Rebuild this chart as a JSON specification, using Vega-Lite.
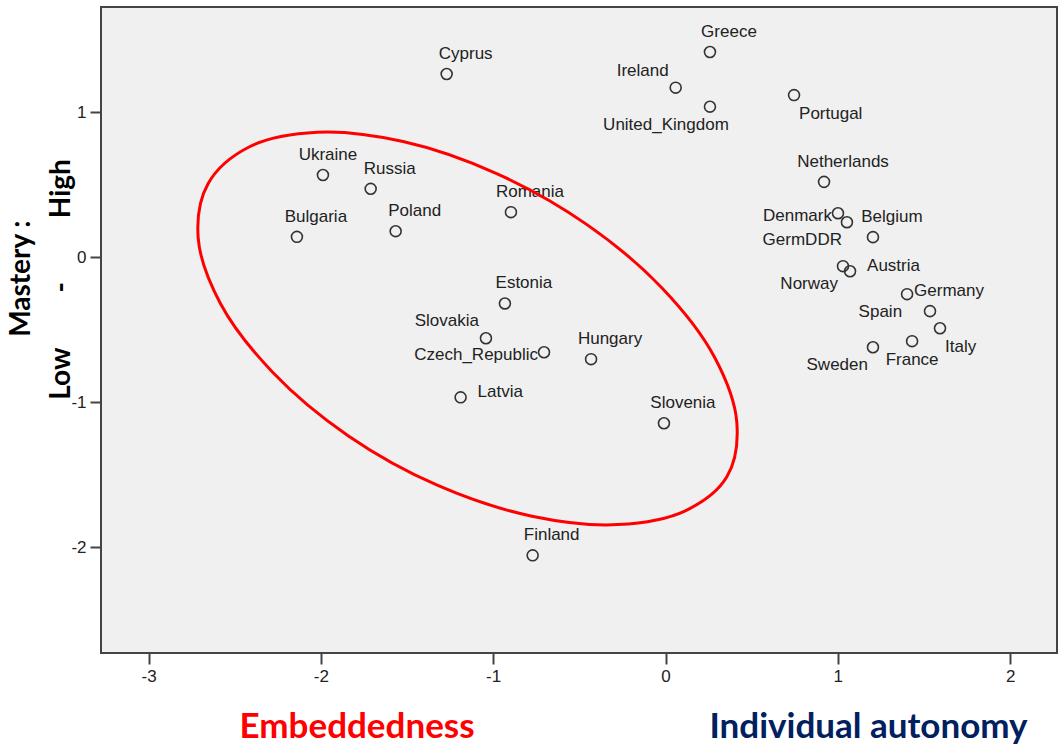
{
  "$schema": "https://vega.github.io/schema/vega-lite/v6.json",
  "width": 956,
  "height": 646,
  "autosize": {"type": "none"},
  "padding": {"left": 101, "top": 7, "right": 1, "bottom": 96},
  "background": "white",
  "config": {
    "view": {"fill": "#f0f0f0", "stroke": "#444444", "strokeWidth": 2},
    "axis": {"grid": false, "domain": false, "tickColor": "#444444", "tickWidth": 2, "tickSize": 11,
             "labelFont": "Liberation Sans Narrow, Liberation Sans", "labelFontSize": 17, "labelColor": "#222222", "labelPadding": 4}
  },
  "datasets": {
    "countries": [
      {"country": "Cyprus", "autonomy": -1.270, "mastery": 1.262},
      {"country": "Greece", "autonomy": 0.258, "mastery": 1.414},
      {"country": "Ireland", "autonomy": 0.059, "mastery": 1.168},
      {"country": "United_Kingdom", "autonomy": 0.258, "mastery": 1.037},
      {"country": "Portugal", "autonomy": 0.746, "mastery": 1.117},
      {"country": "Ukraine", "autonomy": -1.988, "mastery": 0.566},
      {"country": "Russia", "autonomy": -1.711, "mastery": 0.471},
      {"country": "Romania", "autonomy": -0.897, "mastery": 0.310},
      {"country": "Bulgaria", "autonomy": -2.139, "mastery": 0.140},
      {"country": "Poland", "autonomy": -1.566, "mastery": 0.179},
      {"country": "Netherlands", "autonomy": 0.920, "mastery": 0.519},
      {"country": "Denmark", "autonomy": 1.001, "mastery": 0.303},
      {"country": "GermDDR", "autonomy": 1.053, "mastery": 0.241},
      {"country": "Belgium", "autonomy": 1.204, "mastery": 0.138},
      {"country": "Norway", "autonomy": 1.030, "mastery": -0.062},
      {"country": "Austria", "autonomy": 1.071, "mastery": -0.097},
      {"country": "Spain", "autonomy": 1.402, "mastery": -0.255},
      {"country": "Germany", "autonomy": 1.535, "mastery": -0.372},
      {"country": "Italy", "autonomy": 1.593, "mastery": -0.490},
      {"country": "France", "autonomy": 1.431, "mastery": -0.579},
      {"country": "Sweden", "autonomy": 1.204, "mastery": -0.621},
      {"country": "Estonia", "autonomy": -0.932, "mastery": -0.319},
      {"country": "Slovakia", "autonomy": -1.042, "mastery": -0.559},
      {"country": "Czech_Republic", "autonomy": -0.705, "mastery": -0.655},
      {"country": "Hungary", "autonomy": -0.432, "mastery": -0.703},
      {"country": "Latvia", "autonomy": -1.189, "mastery": -0.966},
      {"country": "Slovenia", "autonomy": -0.009, "mastery": -1.145},
      {"country": "Finland", "autonomy": -0.771, "mastery": -2.055}
    ],
    "ellipse": [
      {"i": 1, "autonomy": 0.356, "mastery": -1.514},
      {"i": 2, "autonomy": 0.115, "mastery": -1.748},
      {"i": 3, "autonomy": -0.277, "mastery": -1.843},
      {"i": 4, "autonomy": -0.775, "mastery": -1.785},
      {"i": 5, "autonomy": -1.318, "mastery": -1.575},
      {"i": 6, "autonomy": -1.840, "mastery": -1.232},
      {"i": 7, "autonomy": -2.280, "mastery": -0.793},
      {"i": 8, "autonomy": -2.583, "mastery": -0.319},
      {"i": 9, "autonomy": -2.712, "mastery": 0.133},
      {"i": 10, "autonomy": -2.654, "mastery": 0.508},
      {"i": 11, "autonomy": -2.414, "mastery": 0.761},
      {"i": 12, "autonomy": -2.021, "mastery": 0.861},
      {"i": 13, "autonomy": -1.523, "mastery": 0.797},
      {"i": 14, "autonomy": -0.980, "mastery": 0.576},
      {"i": 15, "autonomy": -0.458, "mastery": 0.226},
      {"i": 16, "autonomy": -0.019, "mastery": -0.214},
      {"i": 17, "autonomy": 0.284, "mastery": -0.688},
      {"i": 18, "autonomy": 0.414, "mastery": -1.140}
    ],
    "xnotes": [
      {"text": "Embeddedness", "autonomy": -1.790, "mastery": -3.317},
      {"text": "Individual autonomy", "autonomy": 1.178, "mastery": -3.317}
    ],
    "ynotes": [
      {"text": "Mastery :", "autonomy": -3.735, "mastery": -0.148},
      {"text": "High", "autonomy": -3.503, "mastery": 0.472},
      {"text": "-", "autonomy": -3.503, "mastery": -0.207},
      {"text": "Low", "autonomy": -3.503, "mastery": -0.803}
    ]
  },
  "encoding": {
    "x": {"field": "autonomy", "type": "quantitative",
          "scale": {"domain": [-3.276, 2.272], "nice": false, "zero": false},
          "axis": {"values": [-3, -2, -1, 0, 1, 2], "labelExpr": "'' + datum.value", "title": null}},
    "y": {"field": "mastery", "type": "quantitative",
          "scale": {"domain": [-2.728, 1.724], "nice": false, "zero": false},
          "axis": {"values": [-2, -1, 0, 1], "labelExpr": "'' + datum.value", "title": null}}
  },
  "layer": [
    {"mark": {"type": "rule", "color": "#4a4a4a", "strokeWidth": 2.5},
     "encoding": {"x": {"datum": 0}, "y": null}},
    {"mark": {"type": "rule", "color": "#4a4a4a", "strokeWidth": 2.5},
     "encoding": {"y": {"datum": 0}, "x": null}},
    {"data": {"name": "countries"},
     "mark": {"type": "point", "shape": "circle", "filled": false, "stroke": "#333333", "strokeWidth": 1.6, "size": 120, "opacity": 1}},
    {"data": {"name": "countries"},
     "transform": [{"filter": {"field": "country", "oneOf": ["Cyprus", "Greece", "Russia", "Romania", "Bulgaria", "Poland", "Netherlands", "Estonia", "Hungary", "Slovenia", "Finland", "Belgium", "Germany"]}}],
     "mark": {"type": "text", "align": "center", "baseline": "middle", "dx": 19, "dy": -20, "font": "Liberation Sans", "fontSize": 17, "color": "#222222"},
     "encoding": {"text": {"field": "country"}}},
    {"data": {"name": "countries"},
     "transform": [{"filter": {"field": "country", "oneOf": ["Ukraine"]}}],
     "mark": {"type": "text", "align": "center", "baseline": "middle", "dx": 5, "dy": -20, "font": "Liberation Sans", "fontSize": 17, "color": "#222222"},
     "encoding": {"text": {"field": "country"}}},
    {"data": {"name": "countries"},
     "transform": [{"filter": {"field": "country", "oneOf": ["Portugal", "Italy"]}}],
     "mark": {"type": "text", "align": "left", "baseline": "middle", "dx": 5, "dy": 19, "font": "Liberation Sans", "fontSize": 17, "color": "#222222"},
     "encoding": {"text": {"field": "country"}}},
    {"data": {"name": "countries"},
     "transform": [{"filter": {"field": "country", "oneOf": ["Sweden", "Norway", "GermDDR", "Spain"]}}],
     "mark": {"type": "text", "align": "right", "baseline": "middle", "dx": -5, "dy": 18, "font": "Liberation Sans", "fontSize": 17, "color": "#222222"},
     "encoding": {"text": {"field": "country"}}},
    {"data": {"name": "countries"},
     "transform": [{"filter": {"field": "country", "oneOf": ["France"]}}],
     "mark": {"type": "text", "align": "center", "baseline": "middle", "dx": 0, "dy": 19, "font": "Liberation Sans", "fontSize": 17, "color": "#222222"},
     "encoding": {"text": {"field": "country"}}},
    {"data": {"name": "countries"},
     "transform": [{"filter": {"field": "country", "oneOf": ["United_Kingdom"]}}],
     "mark": {"type": "text", "align": "center", "baseline": "middle", "dx": -44, "dy": 18, "font": "Liberation Sans", "fontSize": 17, "color": "#222222"},
     "encoding": {"text": {"field": "country"}}},
    {"data": {"name": "countries"},
     "transform": [{"filter": {"field": "country", "oneOf": ["Denmark", "Czech_Republic"]}}],
     "mark": {"type": "text", "align": "right", "baseline": "middle", "dx": -6, "dy": 3, "font": "Liberation Sans", "fontSize": 17, "color": "#222222"},
     "encoding": {"text": {"field": "country"}}},
    {"data": {"name": "countries"},
     "transform": [{"filter": {"field": "country", "oneOf": ["Austria", "Latvia"]}}],
     "mark": {"type": "text", "align": "left", "baseline": "middle", "dx": 17, "dy": -5, "font": "Liberation Sans", "fontSize": 17, "color": "#222222"},
     "encoding": {"text": {"field": "country"}}},
    {"data": {"name": "countries"},
     "transform": [{"filter": {"field": "country", "oneOf": ["Slovakia", "Ireland"]}}],
     "mark": {"type": "text", "align": "right", "baseline": "middle", "dx": -7, "dy": -17, "font": "Liberation Sans", "fontSize": 17, "color": "#222222"},
     "encoding": {"text": {"field": "country"}}},
    {"data": {"name": "ellipse"},
     "mark": {"type": "line", "interpolate": "catmull-rom-closed", "color": "#ff0000", "strokeWidth": 3},
     "encoding": {"order": {"field": "i", "type": "quantitative"}}},
    {"data": {"name": "xnotes"},
     "mark": {"type": "text", "align": "center", "baseline": "alphabetic", "font": "Lato", "fontWeight": "bold", "fontSize": 35},
     "encoding": {"text": {"field": "text"},
                  "color": {"field": "text", "type": "nominal", "scale": {"domain": ["Embeddedness", "Individual autonomy"], "range": ["#ff0000", "#002060"]}, "legend": null}}},
    {"data": {"name": "ynotes"},
     "mark": {"type": "text", "align": "center", "baseline": "middle", "angle": 270, "font": "Lato", "fontWeight": "bold", "fontSize": 28, "color": "#000000"},
     "encoding": {"text": {"field": "text"}}}
  ]
}
